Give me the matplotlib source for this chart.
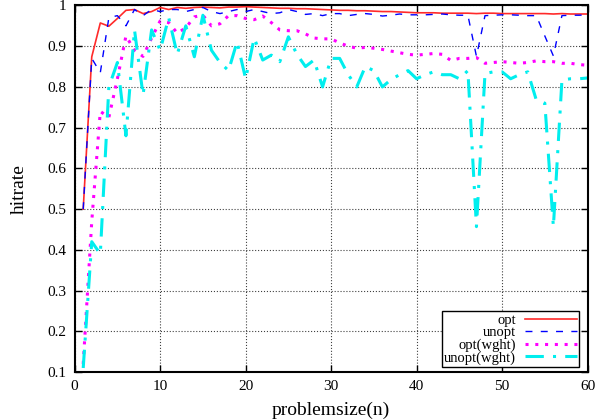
import numpy as np
import matplotlib
matplotlib.use('Agg')
import matplotlib.pyplot as plt

plt.rcParams['font.family'] = ['Liberation Serif', 'DejaVu Serif']

# problem size n = 1..60
n = np.arange(1, 61)

opt = [0.500, 0.874, 0.957, 0.949, 0.968, 0.988, 0.990, 0.980, 0.985, 0.995,
       0.990, 0.995, 0.993, 0.995, 0.996, 0.995, 0.994, 0.996, 0.996, 0.997,
       0.996, 0.995, 0.994, 0.993, 0.993, 0.992, 0.992, 0.991, 0.990, 0.989,
       0.988, 0.988, 0.987, 0.987, 0.986, 0.985, 0.985, 0.984, 0.983, 0.982,
       0.982, 0.982, 0.981, 0.981, 0.981, 0.981, 0.980, 0.981, 0.981, 0.980,
       0.980, 0.980, 0.980, 0.980, 0.980, 0.979, 0.980, 0.979, 0.979, 0.979]

unopt = [0.500, 0.870, 0.835, 0.970, 0.975, 0.950, 0.990, 0.975, 0.990, 0.985,
         0.990, 0.990, 0.985, 0.990, 0.995, 0.985, 0.980, 0.985, 0.990, 0.985,
         0.990, 0.985, 0.980, 0.982, 0.990, 0.985, 0.978, 0.980, 0.975, 0.980,
         0.980, 0.975, 0.978, 0.980, 0.978, 0.974, 0.976, 0.979, 0.977, 0.977,
         0.977, 0.978, 0.979, 0.977, 0.976, 0.976, 0.875, 0.975, 0.976, 0.977,
         0.977, 0.976, 0.975, 0.975, 0.925, 0.876, 0.975, 0.976, 0.976, 0.977]

opt_wght = [0.120, 0.470, 0.740, 0.725, 0.820, 0.925, 0.890, 0.875, 0.920, 0.962,
            0.958, 0.932, 0.945, 0.972, 0.976, 0.950, 0.955, 0.975, 0.975, 0.968,
            0.965, 0.974, 0.958, 0.940, 0.938, 0.938, 0.930, 0.920, 0.918, 0.918,
            0.908, 0.900, 0.895, 0.897, 0.895, 0.892, 0.888, 0.884, 0.880, 0.878,
            0.880, 0.882, 0.880, 0.865, 0.870, 0.870, 0.872, 0.858, 0.860, 0.862,
            0.860, 0.858, 0.860, 0.864, 0.862, 0.862, 0.858, 0.858, 0.855, 0.853]

unopt_wght = [0.110, 0.420, 0.390, 0.800, 0.860, 0.680, 0.940, 0.780, 0.940, 0.890,
              0.970, 0.880, 0.950, 0.874, 0.976, 0.890, 0.860, 0.840, 0.911, 0.820,
              0.920, 0.866, 0.878, 0.862, 0.923, 0.880, 0.850, 0.866, 0.800, 0.870,
              0.870, 0.830, 0.800, 0.850, 0.840, 0.800, 0.818, 0.830, 0.840, 0.820,
              0.830, 0.837, 0.830, 0.830, 0.820, 0.840, 0.457, 0.833, 0.837, 0.837,
              0.820, 0.830, 0.837, 0.768, 0.760, 0.457, 0.817, 0.820, 0.820, 0.822]

xticks = [0, 10, 20, 30, 40, 50, 60]
yticks = [0.1, 0.2, 0.3, 0.4, 0.5, 0.6, 0.7, 0.8, 0.9, 1.0]
ytick_labels = ['0.1', '0.2', '0.3', '0.4', '0.5', '0.6', '0.7', '0.8', '0.9', '1']

fig = plt.figure(figsize=(6.07, 4.19), dpi=100)
ax = fig.add_axes([0.123, 0.112, 0.845, 0.875])

ax.plot(n, opt, color='#ff2a2a', lw=1.2, label='opt')
ax.plot(n, unopt, color='#0000ff', lw=1.0, ls=(0, (5, 6)), label='unopt')
ax.plot(n, opt_wght, color='#ff00ff', lw=2.2, ls=(0, (1, 2.2)), label='opt(wght)')
ax.plot(n, unopt_wght, color='#00eeee', lw=2.2, ls=(0, (6, 3, 1, 3)), label='unopt(wght)')

ax.set_xlim(0, 60)
ax.set_ylim(0.1, 1.0)
ax.set_xticks(xticks)
ax.set_yticks(yticks)
ax.set_yticklabels(ytick_labels)
ax.tick_params(direction='in', length=5, width=1, top=True, right=True, labelsize=11, pad=6)
ax.grid(True, ls=':', color='black', lw=0.8, alpha=0.75)
for s in ax.spines.values():
    s.set_linewidth(1.5)

ax.set_xlabel('problemsize(n)', fontsize=14, labelpad=6)
ax.set_ylabel('hitrate', fontsize=14, labelpad=14)

leg = ax.legend(loc='lower right', bbox_to_anchor=(0.984, 0.014), borderaxespad=0,
                markerfirst=False, fancybox=False, fontsize=10.5, labelspacing=-0.05,
                handlelength=3.6, handletextpad=0.6, borderpad=0.15, framealpha=1)
leg.get_frame().set_edgecolor('black')
leg.get_frame().set_linewidth(1.0)

fig.savefig('out.png', dpi=100)
